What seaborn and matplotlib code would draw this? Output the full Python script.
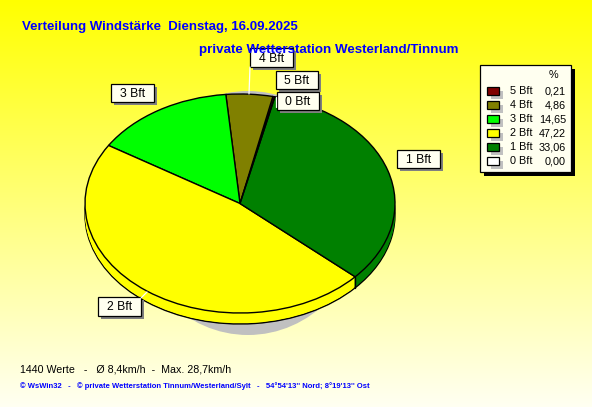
"""Wind force distribution pie, WsWin style."""

import matplotlib
matplotlib.use("Agg")
import matplotlib.pyplot as plt
import numpy as np
import seaborn as sns
from matplotlib.patches import Ellipse, Rectangle

sns.set_theme(style="white")
plt.rcParams["font.family"] = ["Liberation Sans", "DejaVu Sans"]

W, H = 592, 407

# legend order, also counter-clockwise pie order
classes = ["5 Bft", "4 Bft", "3 Bft", "2 Bft", "1 Bft", "0 Bft"]
shares = [0.21, 4.86, 14.65, 47.22, 33.06, 0.00]
colors = ["#800000", "#808000", "#00ff00", "#ffff00", "#008000", "#ffffff"]

title_1 = "Verteilung Windstärke  Dienstag, 16.09.2025"
title_2 = "private Wetterstation Westerland/Tinnum"
stats = "1440 Werte   -   Ø 8,4km/h  -  Max. 28,7km/h"
credits = ("© WsWin32   -   © private Wetterstation Tinnum/Westerland/Sylt"
           "   -   54°54'13'' Nord; 8°19'13'' Ost")

# callout boxes: class -> left, top, right, bottom in pixels
callouts = {
    "4 Bft": (250, 48, 293, 67),
    "5 Bft": (276, 71, 318, 89),
    "0 Bft": (277, 92, 319, 110),
    "3 Bft": (111, 84, 154, 102),
    "1 Bft": (397, 150, 440, 168),
    "2 Bft": (98, 297, 141, 316),
}
leaders = [((250, 67), (249, 94)), ((141, 298), (147, 292)), ((276, 97), (276, 107))]

START_ANGLE = 77
DEPTH_PX = 11
PIE_BOX = (85, 94, 395, 313)  # left, top, right, bottom


def pixel_axes(fig, zorder):
    ax = fig.add_axes([0, 0, 1, 1], zorder=zorder)
    ax.set_xlim(0, W)
    ax.set_ylim(H, 0)
    ax.axis("off")
    ax.patch.set_alpha(0)
    return ax


def box(ax, left, top, right, bottom, face, shadow, offset=3):
    ax.add_patch(Rectangle((left + offset, top + offset), right - left, bottom - top,
                           facecolor=shadow, edgecolor="none"))
    ax.add_patch(Rectangle((left, top), right - left, bottom - top,
                           facecolor=face, edgecolor="black", linewidth=0.9))


fig = plt.figure(figsize=(W / 100, H / 100), dpi=100)

# background gradient and the pie's drop shadow
back = pixel_axes(fig, 0)
gradient = np.linspace(0, 1, H)[:, None]
back.imshow(np.dstack([np.ones_like(gradient), np.ones_like(gradient), gradient * 0.95]),
            extent=(0, W, H, 0), aspect="auto", zorder=0)
back.add_patch(Ellipse((248, 213), 230, 244, facecolor="#c0c0c0", edgecolor="none", zorder=1))

# pie: stacked copies give the 3D rim
left, top, right, bottom = PIE_BOX
pie_ax = fig.add_axes([left / W, 1 - bottom / H, (right - left) / W, (bottom - top) / H], zorder=1)
ry = (bottom - top) / 2
depth = DEPTH_PX / ry
edge = {"edgecolor": "black", "linewidth": 1.0}
pie_ax.pie(shares, colors=colors, startangle=START_ANGLE, center=(0, -depth), wedgeprops=edge)
for off in np.arange(DEPTH_PX - 1, 0, -1):
    pie_ax.pie(shares, colors=colors, startangle=START_ANGLE, center=(0, -off / ry),
               wedgeprops={"edgecolor": "none", "linewidth": 0})
wedges, _ = pie_ax.pie(shares, colors=colors, startangle=START_ANGLE, wedgeprops=edge)
cut = np.deg2rad(wedges[classes.index("1 Bft")].theta1)
pie_ax.plot([np.cos(cut)] * 2, [np.sin(cut), np.sin(cut) - depth], color="black", lw=1.0)
pie_ax.set_xlim(-1, 1)
pie_ax.set_ylim(-1, 1)
pie_ax.set_aspect("auto")
pie_ax.axis("off")

over = pixel_axes(fig, 2)

over.text(22, 27, title_1, color="#0000ff", fontsize=9.5, fontweight="bold", va="center")
over.text(199, 50, title_2, color="#0000ff", fontsize=9.65, fontweight="bold", va="center")
over.text(20, 369, stats, color="#000000", fontsize=7.67, va="center")
over.text(20, 386, credits, color="#0000ff", fontsize=5.5, fontweight="bold", va="center")

for (x0, y0), (x1, y1) in leaders:
    over.plot([x0, x1], [y0, y1], color="white", lw=0.9)
for name, (l, t, r, b) in callouts.items():
    box(over, l, t, r, b, "#fffff0", "#808080")
    over.text((l + r) / 2, (t + b) / 2 + 1, name, color="black", fontsize=8.8,
              ha="center", va="center")

# legend table
box(over, 480, 65, 571, 172, "#fffff0", "black", offset=4)
over.text(553, 75, "%", color="black", fontsize=7.8, ha="center", va="center")
for i, (name, share, color) in enumerate(zip(classes, shares, colors)):
    y = 91 + 14 * i
    box(over, 487, y - 4, 499, y + 4, color, "#c0c0c0", offset=4)
    over.text(510, y, name, color="black", fontsize=7.8, va="center")
    over.text(566, y, f"{share:.2f}".replace(".", ","), color="black", fontsize=7.8,
              ha="right", va="center")

fig.savefig("out.png", dpi=100)
plt.close(fig)
